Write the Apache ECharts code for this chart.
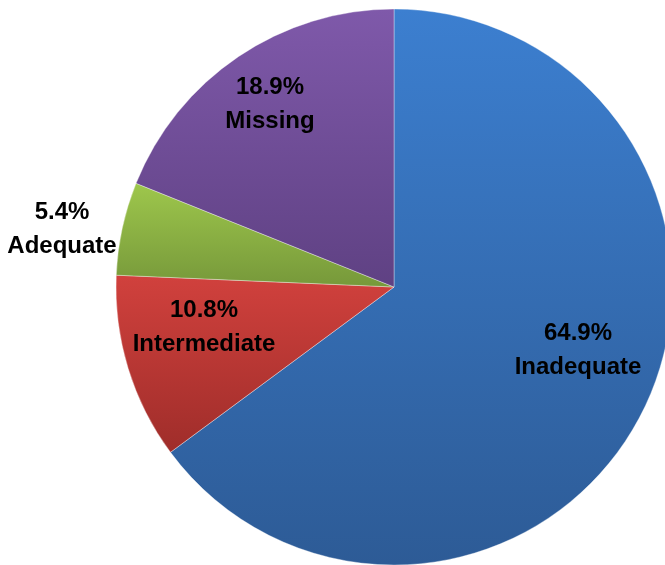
<!DOCTYPE html>
<html>
<head>
<meta charset="utf-8">
<script src="https://cdn.jsdelivr.net/npm/echarts@6/dist/echarts.min.js"></script>
<style>html,body{margin:0;padding:0;background:#fff}#c{width:665px;height:565px}</style>
</head>
<body>
<div id="c"></div>
<script>
const categories = ['Inadequate', 'Intermediate', 'Adequate', 'Missing'];
const counts = [24, 4, 2, 7];

const topColors = ['#3c7fd0', '#d1413d', '#9ec74c', '#7f59aa'];
const bottomColors = ['#2d5b96', '#9f2d2a', '#76983a', '#5f4183'];
const labelPos = [[578, 350], [204, 327], [62, 229], [270, 104]];

const chart = echarts.init(document.getElementById('c'), null, {renderer: 'canvas'});
chart.setOption({
  animation: false,
  series: [{
    type: 'pie',
    center: [394, 287],
    radius: 278,
    startAngle: 90,
    clockwise: true,
    percentPrecision: 1,
    avoidLabelOverlap: false,
    label: {
      show: true,
      position: 'inside',
      formatter: '{d}%\n{b}',
      color: '#000',
      fontFamily: '"Liberation Sans", Arial, sans-serif',
      fontWeight: 'bold',
      fontSize: 24,
      lineHeight: 34
    },
    labelLine: {show: false},
    labelLayout: function (p) {
      const pos = labelPos[p.dataIndex];
      return {x: pos[0], y: pos[1], align: 'center', verticalAlign: 'middle'};
    },
    itemStyle: {borderColor: 'rgba(255,255,255,0.35)', borderWidth: 1},
    emphasis: {disabled: true},
    data: categories.map((c, i) => ({
      name: c,
      value: counts[i],
      itemStyle: {
        color: new echarts.graphic.LinearGradient(0, 0, 0, 1, [
          {offset: 0, color: topColors[i]},
          {offset: 1, color: bottomColors[i]}
        ])
      }
    }))
  }]
});
</script>
</body>
</html>
